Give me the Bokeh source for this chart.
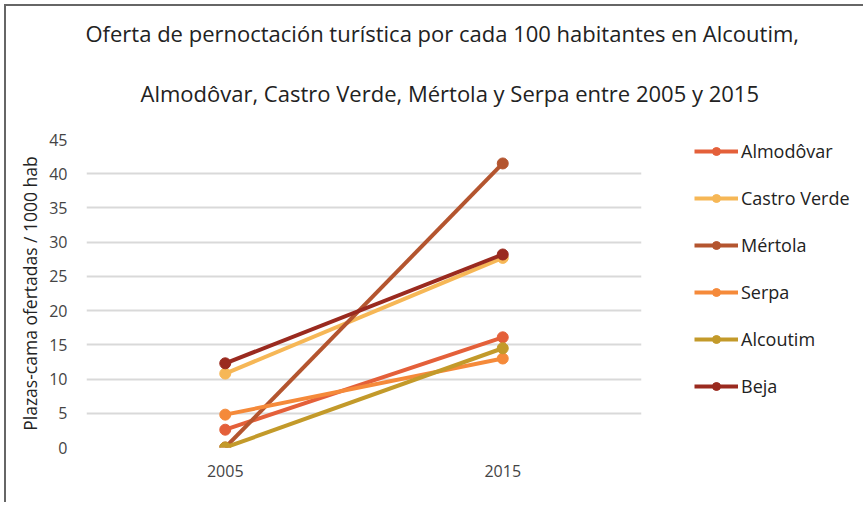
from bokeh.plotting import figure
from bokeh.models import Legend, LegendItem, FactorRange, Range1d, Title, SingleIntervalTicker
from bokeh.embed import file_html
from bokeh.resources import INLINE

years = ["2005", "2015"]
series_names = ["Almodôvar", "Castro Verde", "Mértola", "Serpa", "Alcoutim", "Beja"]
almodovar = [2.6, 16.1]
castro_verde = [10.8, 27.7]
mertola = [0.0, 41.5]
serpa = [4.8, 13.0]
alcoutim = [0.0, 14.5]
beja = [12.3, 28.2]
colors = ["#E4603A", "#F6B756", "#B4552F", "#F58A3A", "#C39A2A", "#9A2A1F"]
y_label = "Plazas-cama ofertadas / 1000 hab"
title_line1 = "Oferta de pernoctación turística por cada 100 habitantes en Alcoutim,"
title_line2 = "Almodôvar, Castro Verde, Mértola y Serpa entre 2005 y 2015"

all_series = [almodovar, castro_verde, mertola, serpa, alcoutim, beja]

p = figure(frame_width=555, frame_height=308, x_range=FactorRange(*years),
           y_range=Range1d(0, 45), output_backend="svg", toolbar_location=None,
           min_border_left=80, min_border_right=215, min_border_top=133,
           min_border_bottom=55)
p.x_range.factor_padding = 0
p.x_range.range_padding = 0
p.styles = {"border-left": "2px solid #666", "border-top": "2px solid #666",
            "margin-left": "4px", "margin-top": "4px"}

common = dict(align="left", text_font="Open Sans", text_font_size="22px",
              text_font_style="normal", text_color="#222222")
p.title = Title(text=title_line1, offset=-1, standoff=0, vertical_align="bottom", **common)
p.add_layout(Title(text=title_line2, offset=54, standoff=60, vertical_align="top",
                   **common), "above")

renderers = []
for name, vals, c in zip(series_names, all_series, colors):
    l = p.line(years, vals, line_color=c, line_width=4)
    s = p.scatter(years, vals, size=11, fill_color=c, line_color=c)
    renderers.append((name, [l, s]))

p.xaxis.axis_line_color = None
p.yaxis.axis_line_color = None
p.xaxis.major_tick_line_color = None
p.yaxis.major_tick_line_color = None
p.xaxis.minor_tick_line_color = None
p.yaxis.minor_tick_line_color = None
p.yaxis.ticker = SingleIntervalTicker(interval=5)
for ax in (p.xaxis, p.yaxis):
    ax.major_label_text_font = "Open Sans"
    ax.major_label_text_font_size = "16px"
    ax.major_label_text_color = "#444444"
p.yaxis.axis_label = y_label
p.yaxis.axis_label_text_font = "Open Sans"
p.yaxis.axis_label_text_font_size = "17.5px"
p.yaxis.axis_label_text_font_style = "normal"
p.yaxis.axis_label_text_color = "#222222"
p.yaxis.axis_label_standoff = 4
p.yaxis.major_label_standoff = 13
p.xaxis.major_label_standoff = 11
p.xgrid.grid_line_color = None
p.ygrid.grid_line_color = "#d9d9d9"
p.ygrid.grid_line_width = 2
p.outline_line_color = None

legend = Legend(items=[LegendItem(label=n, renderers=r) for n, r in renderers],
                location=(53, 49), spacing=23, glyph_width=44, glyph_height=20,
                label_text_font="Open Sans", label_text_font_size="18px",
                label_text_color="#222222", border_line_color=None,
                background_fill_alpha=0, padding=0, margin=0, label_standoff=3)
p.add_layout(legend, "right")

open("out.html", "w").write(file_html(p, INLINE))
